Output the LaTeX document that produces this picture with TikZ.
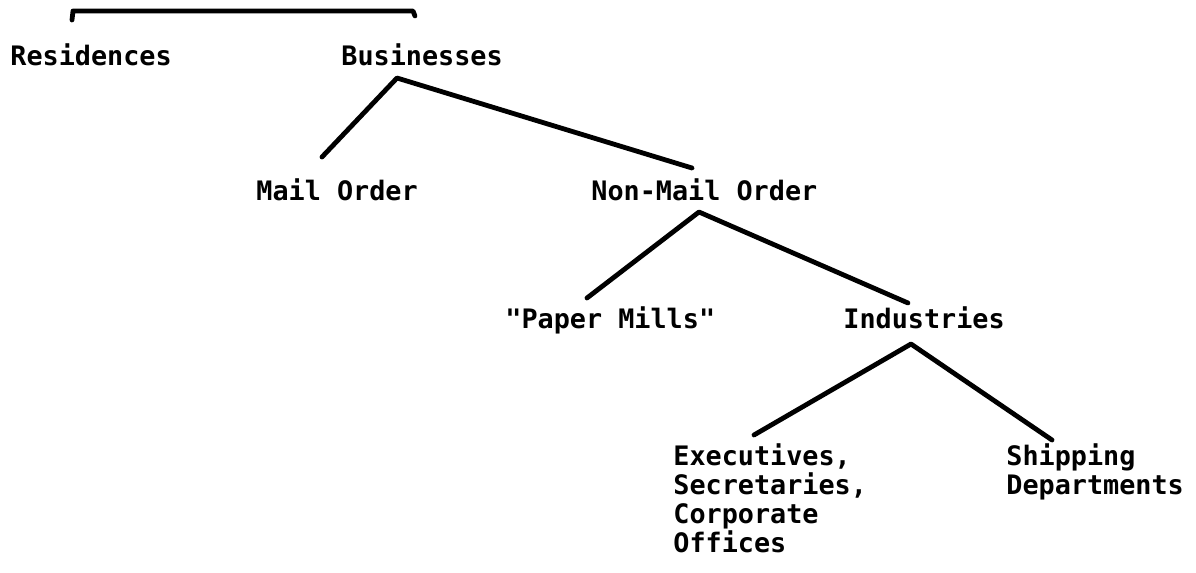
\documentclass[tikz,border=0pt]{standalone}
\usepackage{fontspec}
\setmainfont{DejaVu Sans Mono}
\usepackage{tikz}

\begin{document}
\begin{tikzpicture}[x=0.5pt, y=-0.5pt,
		lbl/.style={inner sep=0pt, anchor=base west, align=left, font=\fontsize{13.4}{14.35}\selectfont\bfseries},
		branch/.style={line width=2.4pt, line cap=round, line join=round}]
	\useasboundingbox (0,0) rectangle (1196,573);

	\node[lbl] (res) at (10,65) {Residences};
	\node[lbl] (bus) at (341,65) {Businesses};
	\node[lbl] (mail) at (256,200) {Mail Order};
	\node[lbl] (nonmail) at (591,200) {Non-Mail Order};
	\node[lbl] (paper) at (505,328) {\textquotedbl Paper Mills\textquotedbl};
	\node[lbl] (ind) at (843,328) {Industries};
	% base of a multi-line node is its last line
	\node[lbl] (exec) at (673,552) {Executives,\\Secretaries,\\Corporate\\Offices};
	\node[lbl] (ship) at (1006,494) {Shipping\\Departments};

	\coordinate (top-l) at (72,20);
	\coordinate (top-r) at (415,16);
	\coordinate (bus-j) at (397,78);
	\coordinate (mail-j) at (322,157);
	\coordinate (nonmail-t) at (692,168);
	\coordinate (nonmail-j) at (699,212);
	\coordinate (paper-j) at (587,298);
	\coordinate (ind-t) at (908,303);
	\coordinate (ind-j) at (911,344);
	\coordinate (exec-j) at (754,435);
	\coordinate (ship-j) at (1052,440);

	\draw[branch] (top-l) -- ++(1,-9) -- (413,11) -- (top-r);

	\draw[branch] (mail-j) -- (bus-j) -- (nonmail-t);
	\draw[branch] (paper-j) -- (nonmail-j) -- (ind-t);
	\draw[branch] (exec-j) -- (ind-j) -- (ship-j);
\end{tikzpicture}
\end{document}
